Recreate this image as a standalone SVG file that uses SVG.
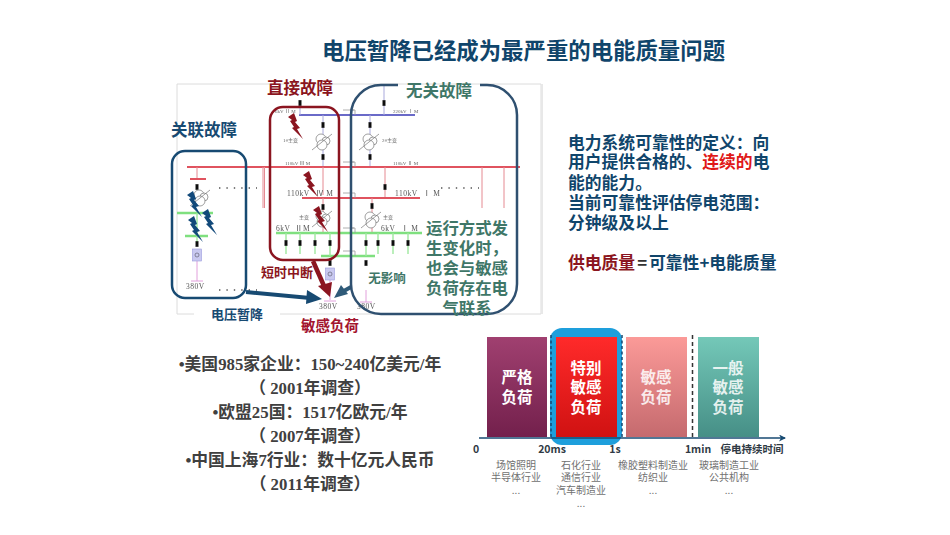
<svg xmlns="http://www.w3.org/2000/svg" width="950" height="535" viewBox="0 0 950 535">
<style>
text{font-family:"Noto Sans CJK SC","Liberation Sans",sans-serif}
.b{font-weight:700}
.navy{fill:#174a72}
.tl{fill:#10456b;font-size:16.8px;font-weight:700}
.lt{fill:#404040;font-size:16.8px;font-weight:700;text-anchor:middle;font-family:"Liberation Serif","Noto Sans CJK SC",serif}
.green{fill:#3f7768;font-weight:700;font-size:16.4px;text-anchor:middle}
.bar{fill:#fff;font-size:15.5px;font-weight:700;text-anchor:middle}
.bar2{fill:#fff;fill-opacity:.85;font-size:15.5px;font-weight:700;text-anchor:middle}
.ax{fill:#2f3a44;font-size:10.5px;font-weight:700;text-anchor:middle}
.sm{fill:#707070;font-size:10px;text-anchor:middle}
.tiny{fill:#666;font-size:5px;font-family:"Liberation Serif","Noto Sans CJK SC",serif}
.tiny2{fill:#555;font-size:7.5px;font-family:"Liberation Serif","Noto Sans CJK SC",serif;letter-spacing:.5px}
.pu{stroke:#6a6ac8;stroke-width:2;fill:none}
.pul{stroke:#a9a9dc;stroke-width:1;fill:none}
.re{stroke:#e0525f;stroke-width:2;fill:none}
.rel{stroke:#e58a92;stroke-width:1;fill:none}
.gr{stroke:#7fe07f;stroke-width:2.4;fill:none}
.grl{stroke:#9fe89f;stroke-width:1.4;fill:none}
.pk{stroke:#e2a0dc;stroke-width:1;fill:none}
.dots{stroke:#555;stroke-width:1.4;stroke-dasharray:1.4 6;fill:none}
.hook{stroke:#999;stroke-width:.8;fill:none}
</style>
<defs>
<filter id="soft" x="-5%" y="-5%" width="110%" height="110%"><feGaussianBlur stdDeviation=".35"/></filter>
<rect id="sw" x="-1.5" y="-2.8" width="3" height="5.6" fill="#111"/>
<polygon id="bolt" points="0,4 6,0 9,8 7,9 12,15 9,16 15,26 4,15 6,14 2,8 4,7"/>
<g id="tx" fill="#fff" stroke="#777" stroke-width=".7"><circle cx="-2" cy="-3" r="5"/><circle cx="3" cy="-1" r="4"/><circle cx="-1" cy="3" r="5"/><path d="M-11 8L9-8" fill="none"/></g>
<g id="box"><rect x="-4.5" y="-6" width="9" height="12" fill="#c9c9f0" stroke="#9a9ade" stroke-width=".6"/><circle r="2" fill="none" stroke="#667" stroke-width=".7"/></g>
<linearGradient id="g1" x1="0" y1="0" x2="0" y2="1"><stop offset="0" stop-color="#a04070"/><stop offset="1" stop-color="#73204c"/></linearGradient>
<linearGradient id="g2" x1="0" y1="0" x2="0" y2="1"><stop offset="0" stop-color="#ff2a2a"/><stop offset="1" stop-color="#d01212"/></linearGradient>
<linearGradient id="g3" x1="0" y1="0" x2="0" y2="1"><stop offset="0" stop-color="#fb9a98"/><stop offset="1" stop-color="#c56a6e"/></linearGradient>
<linearGradient id="g4" x1="0" y1="0" x2="0" y2="1"><stop offset="0" stop-color="#74c8b8"/><stop offset="1" stop-color="#468f86"/></linearGradient>
<marker id="axh" markerWidth="8" markerHeight="8" refX="6" refY="3.5" orient="auto" markerUnits="userSpaceOnUse"><path d="M0 0L7 3.5L0 7L2 3.5Z" fill="#174a72"/></marker>
</defs>
<rect width="950" height="535" fill="#fff"/>

<g id="title"><text x="322" y="59" class="b" font-size="22.4" fill="#10456b">电压暂降已经成为最严重的电能质量问题</text></g>

<g id="panel">
<path d="M194 314H177V84H541V314H280" fill="none" stroke="#dcdcdc" stroke-width="1"/>
<path d="M542 84V314" stroke="#e8e8e8" stroke-width="2" fill="none"/>
</g>

<g id="schematic" filter="url(#soft)">
<path class="pu" d="M299 115H355M350 115H415"/>
<path class="pul" d="M300 100V115M384 85V115M323 115V167M370 115V167"/>
<path class="re" d="M187 167H520"/>
<path class="rel" d="M263 167V208M264.500 167V208M385 167V198M482 167V208M504 167V208M323 167V195M197 167V179"/>
<path class="re" d="M302 198H420"/>
<path class="re" d="M190 179H206" stroke-width="1.400"/>
<path class="rel" d="M323 198V233M372 198V233"/>
<path class="gr" d="M177 213H213M185 236H208M276 233H422"/>
<path class="gr" d="M321 256H375" stroke-width="2"/>
<path class="grl" d="M286 233V254M300 233V254M315 233V254M330 233V256M366 233V256M378 233V254M393 233V254M408 233V254M197 213V236M197 236V244"/>
<path class="pk" d="M197 261V281M330 280V300M366 290V302M191 281H203M324 301H336M360 302H372"/>
<g class="hook"><path d="M343 110H355V115M343 162H355V167M343 193H355V198M343 228H355V233M343 251H355V256M350 110H354M350 162H354M350 228H354"/></g>
<use href="#sw" x="300" y="103"/><use href="#sw" x="384" y="103"/><use href="#sw" x="323" y="125"/><use href="#sw" x="323" y="157"/><use href="#sw" x="370" y="125"/><use href="#sw" x="370" y="157"/><use href="#sw" x="385" y="187"/><use href="#sw" x="323" y="207"/><use href="#sw" x="372" y="206"/><use href="#sw" x="197" y="187"/><use href="#sw" x="197" y="244"/><use href="#sw" x="286" y="243"/><use href="#sw" x="300" y="243"/><use href="#sw" x="315" y="243"/><use href="#sw" x="330" y="243"/><use href="#sw" x="366" y="243"/><use href="#sw" x="378" y="243"/><use href="#sw" x="393" y="243"/><use href="#sw" x="408" y="243"/><use href="#sw" x="330" y="263"/><use href="#sw" x="366" y="263"/>
<use href="#tx" x="323" y="142"/><use href="#tx" x="370" y="142"/><use href="#tx" x="323" y="219"/><use href="#tx" x="372" y="220"/><use href="#tx" x="201" y="198"/>
<use href="#box" x="197" y="255"/><use href="#box" x="330" y="274"/>
<path class="dots" d="M219 188H257M219 290H257M441 188H479"/>
<g>
<text class="tiny" x="275" y="113">6kV</text><text class="tiny" x="285" y="113">Ⅱ M</text>
<text class="tiny" x="393" y="113">220kV Ⅰ M</text><text class="tiny" x="285" y="165">110kV Ⅲ M</text><text class="tiny" x="393" y="165">110kV Ⅱ M</text>
<text class="tiny" x="283" y="142">1#主变</text><text class="tiny" x="382" y="142">2#主变</text>
<text class="tiny2" x="287" y="196">110kV</text><text class="tiny2" x="316" y="196">Ⅳ M</text>
<text class="tiny2" x="395" y="196">110kV</text><text class="tiny2" x="423" y="196">Ⅰ M</text>
<text class="tiny" x="299" y="219">主变</text><text class="tiny" x="383" y="219">主变</text>
<text class="tiny2" x="276" y="231">6kV</text><text class="tiny2" x="295" y="231">ⅡM</text>
<text class="tiny2" x="381" y="231">6kV</text><text class="tiny2" x="401" y="231">Ⅰ M</text>
<text class="tiny2" x="186" y="289">380V</text><text class="tiny2" x="319" y="309">380V</text><text class="tiny2" x="357" y="309">380V</text>
</g>
</g>

<g id="bolts" fill="#8b1520">
<use href="#bolt" x="288" y="113"/><use href="#bolt" x="303" y="171"/><use href="#bolt" x="313" y="206"/>
<g fill="#12497a"><use href="#bolt" x="187" y="191"/><use href="#bolt" x="202" y="209"/><use href="#bolt" x="188" y="216"/></g>
</g>

<g id="connectors" fill="none">
<path d="M246 292L310 298" stroke="#174a72" stroke-width="4"/>
<polygon points="322,299 307,290 306,304" fill="#174a72"/>
<path d="M313 261L324 286" stroke="#8b1520" stroke-width="4.500"/>
<polygon points="330,297 318,286 332,282" fill="#8b1520"/>
<path d="M351 287L342 292" stroke="#2f5a78" stroke-width="4"/>
<polygon points="334,298 341,285 348,294" fill="#2f5a78"/>
</g>

<g id="n-related"><rect x="172" y="151" width="74" height="147" rx="13" fill="none" stroke="#174a72" stroke-width="2.500"/><text x="171" y="136" class="b navy" font-size="16.500">关联故障</text></g>
<g id="n-direct"><rect x="270" y="107" width="69" height="153" rx="13" fill="none" stroke="#8b1520" stroke-width="2.500"/><text x="267" y="94" class="b" font-size="16.500" fill="#8b1520">直接故障</text></g>
<g id="n-unrelated"><path d="M398 85H381A30 30 0 0 0 351 115V284A30 30 0 0 0 381 314H487A30 30 0 0 0 517 284V115A30 30 0 0 0 487 85H480" fill="none" stroke="#2f5070" stroke-width="2.500"/><text x="406" y="97" class="b" font-size="16.500" fill="#3f7768">无关故障</text></g>
<g id="n-note"><text class="green" x="467" y="234">运行方式发</text><text class="green" x="467" y="254">生变化时，</text><text class="green" x="467" y="274">也会与敏感</text><text class="green" x="467" y="294">负荷存在电</text><text class="green" x="467" y="314">气联系</text></g>
<g id="n-noeffect"><text x="387" y="283" text-anchor="middle" class="b" font-size="12.500" fill="#3f7768">无影响</text></g>
<g id="n-interrupt"><text x="261" y="277" class="b" font-size="13" fill="#8b1520">短时中断</text></g>
<g id="n-sag"><text x="237" y="319" text-anchor="middle" class="b navy" font-size="13">电压暂降</text></g>
<g id="n-sensitive"><text x="330" y="331" text-anchor="middle" class="b" font-size="14.500" fill="#a3152f">敏感负荷</text></g>

<g id="definition">
<text class="tl" x="568" y="149">电力系统可靠性的定义：向</text>
<text class="tl" x="568" y="168">用户提供合格的、<tspan fill="#e01818">连续的</tspan>电</text>
<text class="tl" x="568" y="189">能的能力。</text>
<text class="tl" x="568" y="209">当前可靠性评估停电范围：</text>
<text class="tl" x="568" y="229">分钟级及以上</text>
<text class="tl" x="568" y="269"><tspan fill="#8b1520">供电质量</tspan><tspan fill="#333" dx="2">=</tspan><tspan dx="2">可靠性+电能质量</tspan></text>
</g>

<g id="losses">
<text class="lt" x="310" y="370">•美国985家企业：150~240亿美元/年</text>
<text class="lt" x="310" y="394">（ 2001年调查）</text>
<text class="lt" x="310" y="418">•欧盟25国：1517亿欧元/年</text>
<text class="lt" x="310" y="442">（ 2007年调查）</text>
<text class="lt" x="310" y="466">•中国上海7行业：数十亿元人民币</text>
<text class="lt" x="310" y="490">（ 2011年调查）</text>
</g>

<g id="chart-highlight"><rect x="550" y="328" width="72" height="117" rx="12" fill="#1e9fdc"/></g>
<g id="bar-strict"><rect x="487" y="337" width="60" height="100" fill="url(#g1)"/><text class="bar" x="517" y="383">严格</text><text class="bar" x="517" y="403">负荷</text></g>
<g id="bar-special"><rect x="556" y="337" width="61" height="100" fill="url(#g2)"/><text class="bar" x="586" y="374">特别</text><text class="bar" x="586" y="393">敏感</text><text class="bar" x="586" y="413">负荷</text></g>
<g id="bar-sensitive"><rect x="626" y="337" width="61" height="100" fill="url(#g3)"/><text class="bar2" x="656" y="383">敏感</text><text class="bar2" x="656" y="403">负荷</text></g>
<g id="bar-general"><rect x="698" y="337" width="61" height="100" fill="url(#g4)"/><text class="bar2" x="728" y="374">一般</text><text class="bar2" x="728" y="393">敏感</text><text class="bar2" x="728" y="413">负荷</text></g>
<g id="chart-axis">
<path d="M551 335V437M622 335V437" stroke="#174a72" stroke-width="1.500" stroke-dasharray="3 2.500" fill="none"/>
<path d="M692.500 335V437" stroke="#333" stroke-width="1.500" stroke-dasharray="4 3" fill="none"/>
<path d="M479 438H785" stroke="#174a72" stroke-width="1.500" fill="none" marker-end="url(#axh)"/>
<text class="ax" x="476" y="453">0</text><text class="ax" x="552" y="453">20ms</text><text class="ax" x="615" y="453">1s</text><text class="ax" x="698" y="453">1min</text><text class="ax" x="752" y="453">停电持续时间</text>
</g>
<g id="chart-notes">
<text class="sm" x="516" y="469">场馆照明</text><text class="sm" x="516" y="481">半导体行业</text><text class="sm" x="516" y="494">...</text>
<text class="sm" x="581" y="469">石化行业</text><text class="sm" x="581" y="481">通信行业</text><text class="sm" x="581" y="494">汽车制造业</text><text class="sm" x="581" y="507">...</text>
<text class="sm" x="653" y="469">橡胶塑料制造业</text><text class="sm" x="653" y="481">纺织业</text><text class="sm" x="653" y="494">...</text>
<text class="sm" x="729" y="469">玻璃制造工业</text><text class="sm" x="729" y="481">公共机构</text><text class="sm" x="729" y="494">...</text>
</g>
</svg>
